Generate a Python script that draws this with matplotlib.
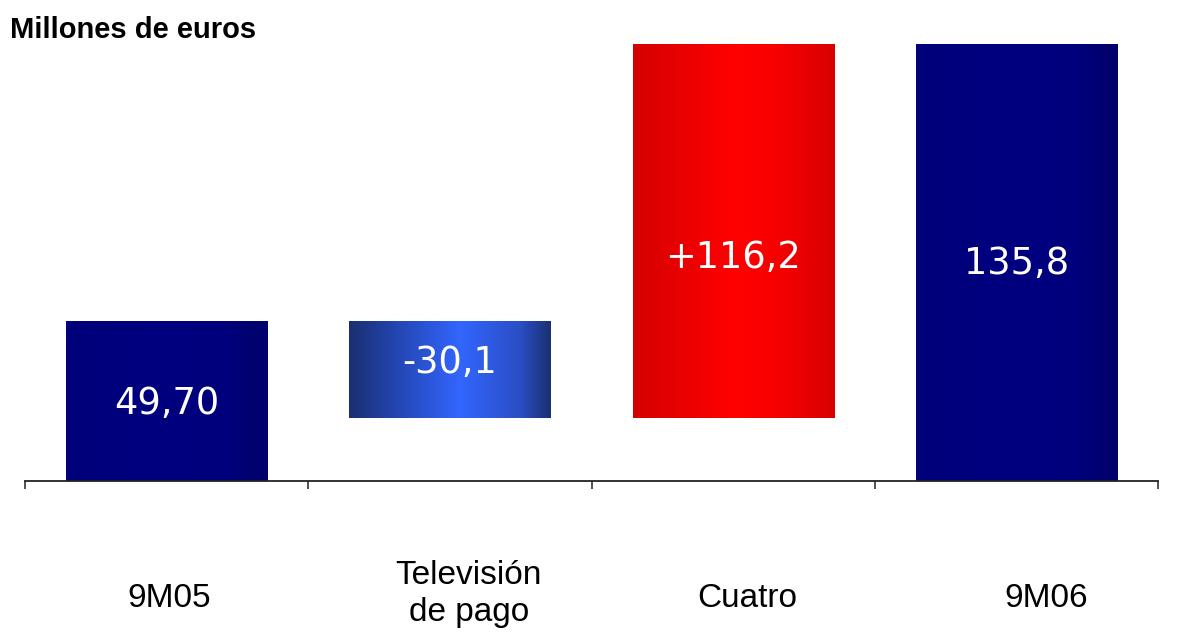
import numpy as np
import matplotlib
matplotlib.use('Agg')
import matplotlib.pyplot as plt
from matplotlib.colors import LinearSegmentedColormap
import matplotlib.transforms as mtransforms

# datos del gráfico (millones de euros)
categorias = ['9M05', 'Televisión\nde pago', 'Cuatro', '9M06']
valores = [49.7, -30.1, 116.2, 135.8]
etiquetas = ['49,70', '-30,1', '+116,2', '135,8']
es_total = [True, False, False, True]

# colores con degradado horizontal de cada barra
gradientes = [
    [(0, '#00007a'), (0.5, '#000080'), (0.8, '#00007c'), (1, '#00006a')],
    [(0, '#1a3070'), (0.2, '#2242a8'), (0.55, '#3366ff'), (0.85, '#2a4ec4'), (1, '#1a3070')],
    [(0, '#d40000'), (0.5, '#ff0000'), (0.7, '#f80000'), (1, '#d90000')],
    [(0, '#00007a'), (0.5, '#000080'), (0.8, '#00007c'), (1, '#00006a')],
]
etiqueta_y = [24.2, 36.7, 69.6, 67.7]      # altura del texto de cada valor
etiqueta_dx = [0.01, 0.067, 0.05, 0.104]   # desplazamiento de las categorías

# bases de la cascada
bases = []
acum = 0
for v, total in zip(valores, es_total):
    if total:
        bases.append(0)
        acum = v
    else:
        acum_nuevo = acum + v
        bases.append(min(acum, acum_nuevo))
        acum = acum_nuevo
alturas = [abs(v) for v in valores]

fig = plt.figure(figsize=(11.84, 6.34), dpi=100)
ax = fig.add_axes([25 / 1184, 153 / 634, 1133 / 1184, 437 / 634])

ancho = 0.71
grad = np.linspace(0, 1, 256).reshape(1, -1)
for i in range(len(valores)):
    cmap = LinearSegmentedColormap.from_list('g%d' % i, gradientes[i])
    x0 = i - ancho / 2
    ax.imshow(grad, cmap=cmap, aspect='auto', interpolation='bilinear',
              extent=[x0, x0 + ancho, bases[i], bases[i] + alturas[i]], zorder=2)
    ax.text(i, etiqueta_y[i], etiquetas[i], color='white', fontsize=26.5,
            family='DejaVu Sans', ha='center', va='center', zorder=3)

ax.set_xlim(-0.5, len(valores) - 0.5)
ax.set_ylim(0, max(valores))

for s in ['top', 'right', 'left']:
    ax.spines[s].set_visible(False)
ax.spines['bottom'].set_color('#222222')
ax.spines['bottom'].set_linewidth(1.3)
ax.set_yticks([])
ax.set_xticks(np.arange(len(valores) + 1) - 0.5)
ax.set_xticklabels([])
ax.tick_params(axis='x', direction='out', length=6, width=1.1, color='#222222')

trans = mtransforms.blended_transform_factory(ax.transData, ax.transAxes)
for i, cat in enumerate(categorias):
    y = -0.320 if '\n' in cat else -0.288
    ax.text(i + etiqueta_dx[i], y, cat, transform=trans, ha='center', va='baseline',
            fontsize=24, family='Liberation Sans', linespacing=1.25, clip_on=False)

fig.text(10 / 1184, 1 - 30 / 634, 'Millones de euros', fontsize=21, fontweight='bold',
         family='Liberation Sans', ha='left', va='center')

fig.savefig('out.png', dpi=100)
